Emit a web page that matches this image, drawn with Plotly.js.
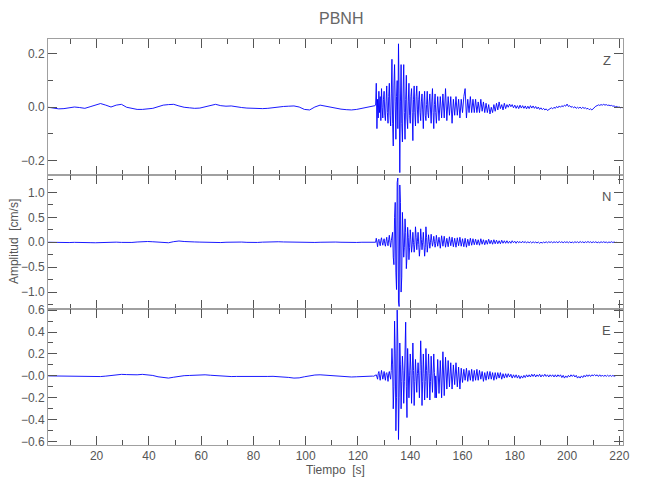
<!DOCTYPE html>
<html>
<head>
<meta charset="utf-8">
<script src="https://cdn.plot.ly/plotly-3.0.1.min.js"></script>
<style>html,body{margin:0;padding:0;background:#fff;}#chart{width:650px;height:500px;}</style>
</head>
<body>
<div id="chart"></div>
<script>
// Station and channel names
const stationName = "PBNH";
const channels = ["Z", "N", "E"];

// Sampling of the digitised record (seconds)
const noiseStart = 1.5, noiseStep = 2.0;     // pre-event section
const strongStart = 126.0, strongStep = 0.25; // onset and strong motion
const codaStart = 150.0, codaStep = 0.5;      // coda

// ---- Z component (cm/s) ----
const zNoise = [
  0.000, -0.002, -0.006, -0.005, -0.002, 0.001, -0.001, -0.004, 0.002, 0.009,
  0.014, 0.008, 0.001, 0.008, 0.011, 0.000, -0.004, -0.008, -0.008, -0.006,
  -0.004, 0.002, 0.008, 0.010, 0.011, 0.005, 0.000, -0.002, -0.004, -0.003,
  0.002, 0.006, 0.011, 0.006, 0.004, 0.005, 0.001, -0.001, -0.003, -0.004,
  -0.003, -0.005, -0.004, -0.001, 0.002, 0.003, 0.004, 0.005, 0.001, -0.008,
  -0.010, 0.001, 0.008, 0.004, 0.001, -0.003, -0.007, -0.009, -0.010, -0.008,
  -0.004, 0.000, 0.004
];
const zStrong = [
  0.005, 0.004, 0.006, 0.008, 0.09, -0.08, 0.03, -0.04, 0.06, -0.02, 0.04, -0.05, 0.07, 0.0, -0.04, 0.03, 0.06, -0.03, -0.05, 0.02,
  0.08, -0.02, -0.06, 0.04, 0.09, -0.03, -0.07, 0.05, 0.18, -0.06, -0.145, 0.08, 0.16, 0.02, -0.12, 0.04, 0.10, -0.08, 0.238, 0.05,
  -0.245, 0.02, 0.16, -0.06, -0.13, 0.05, 0.16, -0.02, -0.12, 0.03, 0.12, -0.04, -0.08, 0.02, 0.09, -0.03, -0.06, 0.04, 0.07, -0.02,
  -0.125, 0.03, 0.08, -0.02, -0.07, 0.04, 0.08, -0.01, -0.06, 0.03, 0.06, -0.02, -0.05, 0.02, 0.05, -0.01, -0.08, 0.02, 0.06, -0.03,
  -0.05, 0.01, 0.06, -0.02, -0.04, 0.02, 0.05, -0.01, -0.06, 0.02, 0.07, -0.02, -0.08, 0.01, 0.05, -0.02
];
const zCoda = [
  -0.06, 0.04, -0.05, 0.04, -0.04, 0.05, -0.04, 0.07, -0.05, 0.04, -0.03, 0.04,
  -0.06, 0.03, -0.03, 0.04, -0.03, 0.03, -0.04, 0.03, -0.02, 0.04, 0.07, -0.04, 0.03, -0.02, 0.04, -0.02, 0.03, -0.02, 0.03, -0.02,
  0.02, -0.02, 0.03, -0.015, 0.02, -0.02, 0.015, -0.02, 0.01, -0.025, 0.0, -0.02, 0.01, -0.015, 0.015, -0.01, 0.02, -0.005, 0.01, -0.01,
  0.015, -0.005, 0.01, 0.0, 0.012, 0.002, 0.01, -0.002, 0.008, -0.004, 0.006, -0.005, 0.008, -0.003, 0.006, -0.004, 0.005, -0.006, 0.004, -0.005,
  0.006, -0.003, 0.005, -0.004, 0.003, -0.006, 0.001, -0.008, -0.002, -0.009, -0.004, -0.01, -0.006, -0.012, -0.008, -0.006, -0.002, -0.006, 0.0, -0.004,
  0.003, -0.002, 0.005, 0.0, 0.006, 0.002, 0.008, 0.004, 0.012, 0.003, 0.006, 0.0, 0.003, -0.002, 0.002, -0.004, 0.0, -0.004, 0.001, -0.005,
  0.0, -0.004, -0.002, -0.006, -0.004, -0.009, -0.006, -0.01, -0.004, -0.002, 0.004, 0.006, 0.009, 0.007, 0.01, 0.008, 0.011, 0.008, 0.01, 0.007,
  0.008, 0.006, 0.007, 0.004, 0.005, 0.002, 0.003, 0.0, 0.001, -0.002, 0.0, -0.003
];

// ---- N component (cm/s) ----
const nNoise = [
  0.000, -0.005, -0.008, -0.010, -0.006, -0.002, 0.000, -0.004, -0.008, -0.010,
  -0.006, 0.000, 0.004, 0.002, -0.003, -0.006, -0.004, 0.005, 0.012, 0.015,
  0.010, 0.004, -0.004, -0.010, 0.012, 0.025, 0.015, 0.004, 0.006, 0.003,
  -0.003, -0.008, -0.010, -0.006, 0.000, 0.005, 0.008, 0.004, -0.002, -0.006,
  -0.004, 0.002, 0.008, 0.012, 0.010, 0.006, 0.002, -0.002, -0.006, -0.010,
  -0.008, -0.004, 0.000, 0.004, 0.006, 0.004, 0.000, -0.004, -0.006, -0.004,
  0.000, 0.003, 0.002
];
const nStrong = [
  0.0, 0.005, 0.01, 0.0, 0.08, -0.05, -0.09, 0.03, 0.06, -0.02, -0.07, 0.04, 0.09, 0.0, -0.06, 0.02, 0.07, -0.03, -0.08, 0.02,
  0.1, -0.02, -0.07, 0.05, 0.14, 0.0, -0.1, 0.03, 0.12, 0.2, -0.3, -0.45, 0.5, 0.8, -0.6, -0.95, 1.2, 1.29, -1.2, -1.29,
  1.15, 0.8, -1.0, -0.7, 0.6, 0.3, -0.3, -0.1, 0.47, 0.2, -0.53, -0.3, 0.3, 0.1, -0.35, -0.1, 0.25, 0.05, -0.2, -0.05,
  0.2, 0.0, -0.2, -0.05, 0.31, 0.1, -0.15, 0.02, 0.2, -0.05, -0.28, -0.1, 0.27, 0.05, -0.15, 0.0, 0.2, -0.05, -0.28, -0.1,
  0.31, 0.1, -0.2, -0.05, 0.15, 0.02, -0.12, 0.0, 0.16, 0.03, -0.08, 0.0, 0.12, 0.02, -0.1, -0.02
];
const nCoda = [
  0.14, -0.08, 0.1, -0.12, 0.13, -0.08, 0.12, -0.1, 0.08, -0.09, 0.11, -0.07,
  0.1, -0.09, 0.08, -0.1, 0.09, -0.07, 0.1, -0.08, 0.07, -0.09, 0.08, -0.1, 0.06, -0.07, 0.08, -0.06, 0.07, -0.05, 0.06, -0.05,
  0.05, -0.06, 0.07, -0.04, 0.05, -0.05, 0.04, -0.04, 0.06, -0.03, 0.04, -0.04, 0.05, -0.03, 0.04, -0.03, 0.03, -0.03, 0.04, -0.02,
  0.03, -0.02, 0.03, -0.02, 0.02, -0.02, 0.03, -0.01, 0.02, -0.02, 0.02, -0.01, 0.015, -0.015, 0.02, -0.01, 0.015, -0.015, 0.01, -0.01,
  0.01, -0.015, 0.01, -0.01, 0.005, -0.015, 0.005, -0.02, 0.0, -0.015, 0.005, -0.01, 0.01, -0.01, 0.01, -0.005, 0.01, -0.01, 0.01, -0.005,
  0.01, -0.01, 0.015, -0.005, 0.01, -0.01, 0.01, -0.005, 0.01, -0.01, 0.01, -0.01, 0.005, -0.01, 0.01, -0.005, 0.01, -0.01, 0.015, -0.005,
  0.01, -0.01, 0.01, -0.005, 0.015, -0.005, 0.01, -0.01, 0.01, -0.005, 0.01, -0.01, 0.005, -0.01, 0.01, -0.005, 0.01, -0.005, 0.005, -0.01,
  0.005, -0.005, 0.01, -0.005, 0.005, -0.005, 0.0
];

// ---- E component (cm/s) ----
const eNoise = [
  0.000, -0.001, -0.002, -0.003, -0.002, -0.004, -0.006, -0.008, -0.010, -0.009,
  -0.006, -0.002, 0.004, 0.010, 0.014, 0.012, 0.008, 0.010, 0.014, 0.012,
  0.004, -0.008, -0.016, -0.020, -0.012, -0.004, 0.002, 0.004, 0.008, 0.012,
  0.010, 0.006, 0.002, -0.002, -0.004, -0.006, -0.005, -0.006, -0.005, -0.004,
  -0.005, -0.006, -0.005, -0.004, -0.006, -0.010, -0.014, -0.020, -0.018, -0.008,
  0.002, 0.008, 0.010, 0.006, 0.004, 0.000, -0.006, -0.010, -0.010, -0.008,
  -0.004, -0.003, -0.002
];
const eStrong = [
  -0.003, 0.0, -0.002, 0.005, 0.01, -0.01, -0.03, 0.02, 0.04, 0.0, -0.04, 0.01, 0.05, 0.01, -0.03, 0.0, 0.04, -0.01, -0.04, 0.02,
  0.03, 0.0, -0.05, 0.02, 0.04, 0.0, -0.03, 0.05, 0.25, 0.1, -0.3, -0.1, 0.5, 0.2, -0.5, -0.2, 0.6, 0.3, -0.58, -0.2,
  0.3, 0.1, -0.3, -0.05, 0.18, 0.05, -0.25, -0.05, 0.3, 0.49, -0.1, -0.38, 0.25, 0.05, -0.2, 0.0, 0.2, 0.05, -0.25, 0.0,
  0.3, 0.05, -0.27, -0.05, 0.15, 0.0, -0.15, 0.02, 0.12, 0.0, -0.2, 0.05, 0.32, 0.1, -0.27, -0.05, 0.2, 0.02, -0.22, -0.05,
  0.25, 0.05, -0.2, 0.0, 0.2, 0.02, -0.22, -0.05, 0.18, 0.0, -0.15, 0.02, 0.2, 0.03, -0.2, 0.0
];
const eCoda = [
  -0.2, 0.15, -0.16, 0.14, -0.2, 0.22, -0.18, 0.17, -0.12, 0.14, -0.1, 0.12,
  -0.12, 0.1, -0.08, 0.12, -0.1, 0.08, -0.12, 0.07, -0.06, 0.06, -0.04, 0.07, -0.05, 0.05, -0.04, 0.06, -0.05, 0.05, -0.04, 0.06,
  -0.04, 0.05, -0.03, 0.04, -0.05, 0.03, -0.04, 0.04, -0.03, 0.04, -0.03, 0.03, -0.04, 0.03, -0.03, 0.03, -0.02, 0.03, -0.03, 0.02,
  -0.02, 0.02, -0.015, 0.02, -0.01, 0.015, -0.02, 0.01, -0.015, 0.01, -0.02, 0.005, -0.025, 0.0, -0.02, 0.005, -0.015, 0.01, -0.01, 0.01,
  -0.01, 0.015, -0.005, 0.015, -0.01, 0.01, -0.005, 0.015, -0.01, 0.01, -0.005, 0.015, -0.005, 0.01, -0.01, 0.01, -0.005, 0.01, -0.01, 0.01,
  -0.01, 0.01, -0.005, 0.01, -0.015, 0.005, -0.02, 0.0, -0.015, 0.005, -0.01, 0.01, -0.005, 0.01, -0.01, 0.005, -0.02, -0.005, -0.02, 0.0,
  -0.015, 0.005, -0.01, 0.01, -0.005, 0.01, -0.005, 0.01, 0.0, 0.012, 0.0, 0.01, -0.005, 0.01, -0.005, 0.008, -0.005, 0.006, -0.004, 0.006,
  -0.004, 0.005, -0.004, 0.004, -0.003, 0.0
];

// Tick labels
const xTickVals = [20, 40, 60, 80, 100, 120, 140, 160, 180, 200, 220];
const zTickVals = [-0.2, 0.0, 0.2];
const zTickText = ["\u22120.2", "0.0", "0.2"];
const nTickVals = [-1.0, -0.5, 0.0, 0.5, 1.0];
const nTickText = ["\u22121.0", "\u22120.5", "0.0", "0.5", "1.0"];
const eTickVals = [-0.6, -0.4, -0.2, 0.0, 0.2, 0.4, 0.6];
const eTickText = ["\u22120.6", "\u22120.4", "\u22120.2", "\u22120.0", "0.2", "0.4", "0.6"];

// Build sample times from the sampling description
function sampleTimes(start, step, n) {
  const t = [];
  for (let i = 0; i < n; i++) t.push(+(start + i * step).toFixed(3));
  return t;
}
function series(noise, strong, coda) {
  return {
    x: sampleTimes(noiseStart, noiseStep, noise.length)
        .concat(sampleTimes(strongStart, strongStep, strong.length))
        .concat(sampleTimes(codaStart, codaStep, coda.length)),
    y: noise.concat(strong, coda)
  };
}

const zS = series(zNoise, zStrong, zCoda);
const nS = series(nNoise, nStrong, nCoda);
const eS = series(eNoise, eStrong, eCoda);

const FONT = "'Liberation Sans', Arial, sans-serif";
const lineStyle = {color: "#0000ff", width: 0.9};

const traces = [
  {x: zS.x, y: zS.y, xaxis: "x", yaxis: "y", type: "scatter", mode: "lines", line: lineStyle, name: channels[0]},
  {x: nS.x, y: nS.y, xaxis: "x2", yaxis: "y2", type: "scatter", mode: "lines", line: lineStyle, name: channels[1]},
  {x: eS.x, y: eS.y, xaxis: "x3", yaxis: "y3", type: "scatter", mode: "lines", line: lineStyle, name: channels[2]}
];

function xAxis(anchor, labels) {
  return {
    anchor: anchor, domain: [0, 1], range: [1.4, 221.4],
    tickvals: xTickVals, ticks: "inside", ticklen: 9, tickwidth: 1, tickcolor: "#555",
    minor: {dtick: 10, tick0: 0, ticks: "inside", ticklen: 5, tickwidth: 1, tickcolor: "#555"},
    showline: true, linecolor: "#a0a0a0", linewidth: 1, mirror: "ticks",
    showgrid: false, zeroline: false, showticklabels: labels,
    tickfont: {family: FONT, size: 12, color: "#555"}
  };
}
function yAxis(anchor, domain, range, vals, text, minorStep) {
  return {
    anchor: anchor, domain: domain, range: range,
    tickvals: vals, ticktext: text, ticks: "inside", ticklen: 9, tickwidth: 1, tickcolor: "#555",
    minor: {dtick: minorStep, tick0: 0, ticks: "inside", ticklen: 5, tickwidth: 1, tickcolor: "#555"},
    showline: true, linecolor: "#a0a0a0", linewidth: 1, mirror: "ticks",
    showgrid: false, zeroline: false,
    tickfont: {family: FONT, size: 12, color: "#555"}
  };
}

const layout = {
  width: 650, height: 500,
  margin: {l: 48, r: 27, t: 39, b: 55},
  paper_bgcolor: "#fff", plot_bgcolor: "#fff",
  showlegend: false,
  font: {family: FONT, color: "#555"},
  title: {text: stationName, x: 0.51, xref: "paper", y: 0.963, yanchor: "middle",
          font: {family: FONT, size: 16, color: "#666"}},
  xaxis: xAxis("y", false),
  xaxis2: Object.assign(xAxis("y2", false), {matches: "x"}),
  xaxis3: Object.assign(xAxis("y3", true), {matches: "x",
          title: {text: "Tiempo  [s]", standoff: 3, font: {family: FONT, size: 12, color: "#555"}}}),
  yaxis: yAxis("x", [0.665, 1], [-0.254, 0.256], zTickVals, zTickText, 0.1),
  yaxis2: yAxis("x2", [0.335, 0.665], [-1.34, 1.35], nTickVals, nTickText, 0.25),
  yaxis3: yAxis("x3", [0, 0.335], [-0.63, 0.61], eTickVals, eTickText, 0.1),
  annotations: [
    {text: "Amplitud  [cm/s]", xref: "paper", yref: "paper", x: -0.059, y: 0.5, textangle: -90,
     showarrow: false, xanchor: "center", yanchor: "middle", font: {family: FONT, size: 12, color: "#555"}},
    {text: channels[0], xref: "paper", yref: "y domain", x: 0.972, y: 0.84, showarrow: false,
     xanchor: "center", yanchor: "middle", font: {family: FONT, size: 13, color: "#555"}},
    {text: channels[1], xref: "paper", yref: "y2 domain", x: 0.972, y: 0.84, showarrow: false,
     xanchor: "center", yanchor: "middle", font: {family: FONT, size: 13, color: "#555"}},
    {text: channels[2], xref: "paper", yref: "y3 domain", x: 0.972, y: 0.84, showarrow: false,
     xanchor: "center", yanchor: "middle", font: {family: FONT, size: 13, color: "#555"}}
  ]
};

Plotly.newPlot("chart", traces, layout, {displayModeBar: false, staticPlot: true});
</script>
</body>
</html>
